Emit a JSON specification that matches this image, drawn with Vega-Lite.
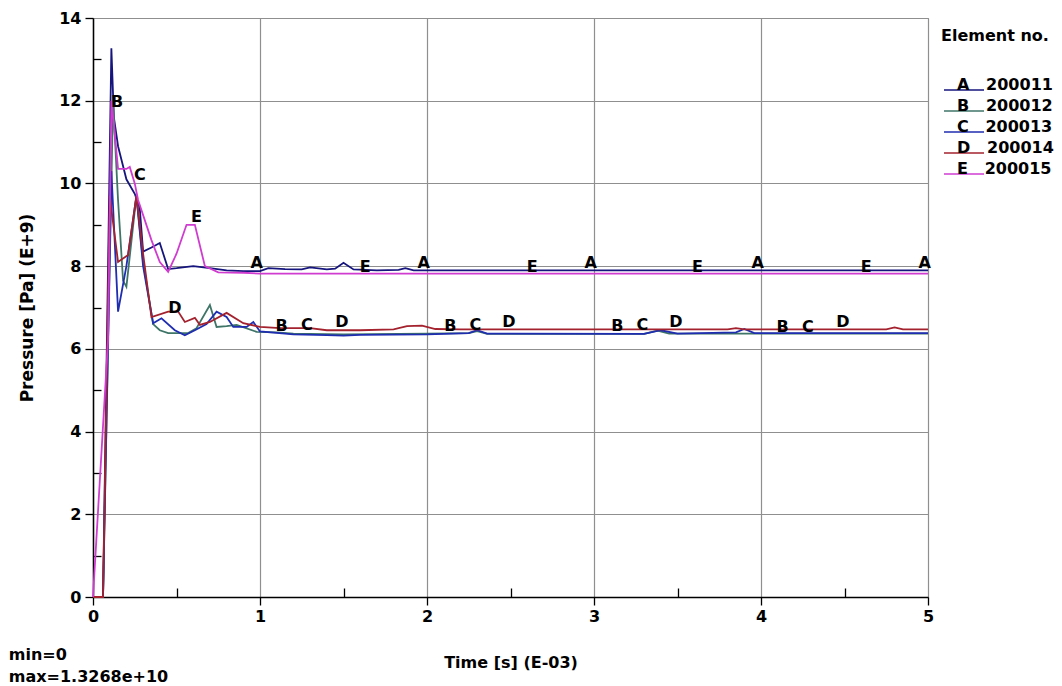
{
  "$schema": "https://vega.github.io/schema/vega-lite/v6.json",
  "width": 835,
  "height": 579,
  "autosize": {"type": "none"},
  "padding": {"left": 93, "top": 18, "right": 134, "bottom": 89},
  "background": "white",
  "config": {
    "font": "DejaVu Sans",
    "view": {"stroke": "#8a8a8a", "strokeWidth": 1}
  },
  "title": {
    "text": ["min=0", "max=1.3268e+10"],
    "orient": "bottom",
    "anchor": "start",
    "frame": "bounds",
    "font": "DejaVu Sans",
    "fontSize": 16,
    "fontWeight": "bold",
    "color": "black",
    "offset": -23,
    "dx": -10,
    "lineHeight": 22,
    "align": "left"
  },
  "datasets": {
    "curves": [
      {"t":0,"p":0,"el":"200011"},{"t":0.06,"p":0,"el":"200011"},{"t":0.11,"p":13.27,"el":"200011"},{"t":0.125,"p":11.6,"el":"200011"},{"t":0.15,"p":10.9,"el":"200011"},{"t":0.2,"p":10.1,"el":"200011"},{"t":0.25,"p":9.75,"el":"200011"},{"t":0.28,"p":9.4,"el":"200011"},{"t":0.3,"p":8.35,"el":"200011"},{"t":0.35,"p":8.45,"el":"200011"},{"t":0.4,"p":8.56,"el":"200011"},{"t":0.45,"p":7.93,"el":"200011"},{"t":0.5,"p":7.95,"el":"200011"},{"t":0.6,"p":8.0,"el":"200011"},{"t":0.7,"p":7.95,"el":"200011"},{"t":0.8,"p":7.9,"el":"200011"},{"t":0.9,"p":7.88,"el":"200011"},{"t":1.0,"p":7.88,"el":"200011"},{"t":1.05,"p":7.95,"el":"200011"},{"t":1.15,"p":7.93,"el":"200011"},{"t":1.25,"p":7.92,"el":"200011"},{"t":1.3,"p":7.97,"el":"200011"},{"t":1.4,"p":7.92,"el":"200011"},{"t":1.45,"p":7.94,"el":"200011"},{"t":1.5,"p":8.08,"el":"200011"},{"t":1.56,"p":7.92,"el":"200011"},{"t":1.7,"p":7.9,"el":"200011"},{"t":1.83,"p":7.91,"el":"200011"},{"t":1.87,"p":7.95,"el":"200011"},{"t":1.92,"p":7.9,"el":"200011"},{"t":2.5,"p":7.9,"el":"200011"},{"t":3.0,"p":7.9,"el":"200011"},{"t":3.5,"p":7.9,"el":"200011"},{"t":4.0,"p":7.9,"el":"200011"},{"t":4.5,"p":7.9,"el":"200011"},{"t":5.0,"p":7.9,"el":"200011"},

      {"t":0,"p":0,"el":"200012"},{"t":0.06,"p":0,"el":"200012"},{"t":0.12,"p":12.0,"el":"200012"},{"t":0.15,"p":9.6,"el":"200012"},{"t":0.18,"p":7.65,"el":"200012"},{"t":0.2,"p":7.5,"el":"200012"},{"t":0.26,"p":9.7,"el":"200012"},{"t":0.3,"p":8.1,"el":"200012"},{"t":0.36,"p":6.6,"el":"200012"},{"t":0.4,"p":6.45,"el":"200012"},{"t":0.45,"p":6.38,"el":"200012"},{"t":0.57,"p":6.38,"el":"200012"},{"t":0.62,"p":6.5,"el":"200012"},{"t":0.7,"p":7.06,"el":"200012"},{"t":0.74,"p":6.53,"el":"200012"},{"t":0.8,"p":6.55,"el":"200012"},{"t":0.86,"p":6.58,"el":"200012"},{"t":0.98,"p":6.41,"el":"200012"},{"t":1.1,"p":6.4,"el":"200012"},{"t":1.2,"p":6.37,"el":"200012"},{"t":1.5,"p":6.35,"el":"200012"},{"t":2.0,"p":6.37,"el":"200012"},{"t":2.25,"p":6.38,"el":"200012"},{"t":2.3,"p":6.43,"el":"200012"},{"t":2.36,"p":6.36,"el":"200012"},{"t":3.0,"p":6.36,"el":"200012"},{"t":3.3,"p":6.36,"el":"200012"},{"t":3.38,"p":6.44,"el":"200012"},{"t":3.45,"p":6.37,"el":"200012"},{"t":4.0,"p":6.37,"el":"200012"},{"t":4.5,"p":6.37,"el":"200012"},{"t":5.0,"p":6.37,"el":"200012"},

      {"t":0,"p":0,"el":"200013"},{"t":0.06,"p":0,"el":"200013"},{"t":0.11,"p":10.3,"el":"200013"},{"t":0.15,"p":6.9,"el":"200013"},{"t":0.2,"p":8.0,"el":"200013"},{"t":0.26,"p":9.7,"el":"200013"},{"t":0.3,"p":8.0,"el":"200013"},{"t":0.36,"p":6.62,"el":"200013"},{"t":0.41,"p":6.74,"el":"200013"},{"t":0.49,"p":6.45,"el":"200013"},{"t":0.55,"p":6.33,"el":"200013"},{"t":0.61,"p":6.45,"el":"200013"},{"t":0.68,"p":6.6,"el":"200013"},{"t":0.74,"p":6.9,"el":"200013"},{"t":0.8,"p":6.77,"el":"200013"},{"t":0.84,"p":6.53,"el":"200013"},{"t":0.92,"p":6.53,"el":"200013"},{"t":0.96,"p":6.65,"el":"200013"},{"t":1.0,"p":6.42,"el":"200013"},{"t":1.2,"p":6.35,"el":"200013"},{"t":1.4,"p":6.33,"el":"200013"},{"t":1.5,"p":6.32,"el":"200013"},{"t":1.6,"p":6.34,"el":"200013"},{"t":2.0,"p":6.35,"el":"200013"},{"t":2.25,"p":6.38,"el":"200013"},{"t":2.3,"p":6.45,"el":"200013"},{"t":2.36,"p":6.37,"el":"200013"},{"t":3.3,"p":6.36,"el":"200013"},{"t":3.4,"p":6.45,"el":"200013"},{"t":3.5,"p":6.37,"el":"200013"},{"t":3.85,"p":6.4,"el":"200013"},{"t":3.9,"p":6.48,"el":"200013"},{"t":3.96,"p":6.38,"el":"200013"},{"t":5.0,"p":6.38,"el":"200013"},

      {"t":0,"p":0,"el":"200014"},{"t":0.06,"p":0,"el":"200014"},{"t":0.1,"p":9.7,"el":"200014"},{"t":0.15,"p":8.1,"el":"200014"},{"t":0.21,"p":8.27,"el":"200014"},{"t":0.26,"p":9.7,"el":"200014"},{"t":0.3,"p":8.3,"el":"200014"},{"t":0.35,"p":6.77,"el":"200014"},{"t":0.45,"p":6.9,"el":"200014"},{"t":0.51,"p":6.9,"el":"200014"},{"t":0.55,"p":6.65,"el":"200014"},{"t":0.61,"p":6.75,"el":"200014"},{"t":0.64,"p":6.58,"el":"200014"},{"t":0.7,"p":6.65,"el":"200014"},{"t":0.8,"p":6.87,"el":"200014"},{"t":0.9,"p":6.62,"el":"200014"},{"t":1.0,"p":6.53,"el":"200014"},{"t":1.12,"p":6.5,"el":"200014"},{"t":1.3,"p":6.5,"el":"200014"},{"t":1.4,"p":6.45,"el":"200014"},{"t":1.6,"p":6.45,"el":"200014"},{"t":1.8,"p":6.47,"el":"200014"},{"t":1.88,"p":6.55,"el":"200014"},{"t":1.97,"p":6.56,"el":"200014"},{"t":2.05,"p":6.48,"el":"200014"},{"t":2.2,"p":6.47,"el":"200014"},{"t":3.0,"p":6.47,"el":"200014"},{"t":3.8,"p":6.47,"el":"200014"},{"t":3.85,"p":6.5,"el":"200014"},{"t":3.9,"p":6.47,"el":"200014"},{"t":4.75,"p":6.47,"el":"200014"},{"t":4.8,"p":6.52,"el":"200014"},{"t":4.85,"p":6.47,"el":"200014"},{"t":5.0,"p":6.47,"el":"200014"},

      {"t":0,"p":0,"el":"200015"},{"t":0.09,"p":6.2,"el":"200015"},{"t":0.11,"p":12.0,"el":"200015"},{"t":0.13,"p":11.2,"el":"200015"},{"t":0.15,"p":10.35,"el":"200015"},{"t":0.2,"p":10.35,"el":"200015"},{"t":0.22,"p":10.4,"el":"200015"},{"t":0.25,"p":10.0,"el":"200015"},{"t":0.27,"p":9.6,"el":"200015"},{"t":0.35,"p":8.63,"el":"200015"},{"t":0.4,"p":8.1,"el":"200015"},{"t":0.45,"p":7.86,"el":"200015"},{"t":0.5,"p":8.3,"el":"200015"},{"t":0.56,"p":9.0,"el":"200015"},{"t":0.61,"p":9.0,"el":"200015"},{"t":0.67,"p":8.0,"el":"200015"},{"t":0.75,"p":7.85,"el":"200015"},{"t":0.9,"p":7.84,"el":"200015"},{"t":1.0,"p":7.82,"el":"200015"},{"t":1.5,"p":7.82,"el":"200015"},{"t":2.0,"p":7.82,"el":"200015"},{"t":3.0,"p":7.82,"el":"200015"},{"t":4.0,"p":7.82,"el":"200015"},{"t":5.0,"p":7.82,"el":"200015"}
    ],
    "tags": [
      {"t":0.144,"p":11.97,"tag":"B"},
      {"t":0.28,"p":10.2,"tag":"C"},
      {"t":0.49,"p":6.99,"tag":"D"},
      {"t":0.62,"p":9.19,"tag":"E"},
      {"t":0.98,"p":8.08,"tag":"A"},{"t":1.98,"p":8.08,"tag":"A"},{"t":2.98,"p":8.08,"tag":"A"},{"t":3.98,"p":8.08,"tag":"A"},{"t":4.98,"p":8.08,"tag":"A"},
      {"t":1.63,"p":7.98,"tag":"E"},{"t":2.63,"p":7.98,"tag":"E"},{"t":3.62,"p":7.98,"tag":"E"},{"t":4.63,"p":7.98,"tag":"E"},
      {"t":1.13,"p":6.55,"tag":"B"},{"t":2.14,"p":6.55,"tag":"B"},{"t":3.14,"p":6.55,"tag":"B"},{"t":4.13,"p":6.53,"tag":"B"},
      {"t":1.28,"p":6.58,"tag":"C"},{"t":2.29,"p":6.58,"tag":"C"},{"t":3.29,"p":6.58,"tag":"C"},{"t":4.28,"p":6.53,"tag":"C"},
      {"t":1.49,"p":6.65,"tag":"D"},{"t":2.49,"p":6.65,"tag":"D"},{"t":3.49,"p":6.65,"tag":"D"},{"t":4.49,"p":6.65,"tag":"D"}
    ]
  },
  "layer": [
    {
      "data": {"name": "curves"},
      "mark": {"type": "line", "strokeWidth": 1.8},
      "encoding": {
        "x": {
          "field": "t", "type": "quantitative",
          "scale": {"domain": [0, 5], "nice": false, "zero": false},
          "axis": {
            "title": "Time [s] (E-03)",
            "values": [0, 0.5, 1, 1.5, 2, 2.5, 3, 3.5, 4, 4.5, 5],
            "labelExpr": "datum.value % 1 === 0 ? '' + datum.value : ''",
            "labelFlush": false,
            "labelFont": "DejaVu Sans", "labelFontSize": 16, "labelFontWeight": "bold", "labelColor": "black",
            "labelPadding": 3,
            "titleFont": "DejaVu Sans", "titleFontSize": 16, "titleFontWeight": "bold", "titleColor": "black",
            "titlePadding": 30,
            "domainColor": "black", "domainWidth": 1.5,
            "tickColor": "black", "tickWidth": 1.3,
            "tickSize": {"condition": {"test": "datum.value % 1 !== 0", "value": -9}, "value": 8},
            "grid": true, "gridColor": "#8f8f8f", "gridWidth": 1.2,
            "gridOpacity": {"condition": {"test": "datum.value % 1 !== 0", "value": 0}, "value": 1}
          }
        },
        "y": {
          "field": "p", "type": "quantitative",
          "scale": {"domain": [0, 14], "nice": false},
          "axis": {
            "title": "Pressure [Pa] (E+9)",
            "values": [0, 1, 2, 3, 4, 5, 6, 7, 8, 9, 10, 11, 12, 13, 14],
            "labelExpr": "datum.value % 2 === 0 ? '' + datum.value : ''",
            "labelFlush": false,
            "labelFont": "DejaVu Sans", "labelFontSize": 16, "labelFontWeight": "bold", "labelColor": "black",
            "labelPadding": 4,
            "titleFont": "DejaVu Sans", "titleFontSize": 17, "titleFontWeight": "bold", "titleColor": "black",
            "titlePadding": 22,
            "domainColor": "black", "domainWidth": 1.5,
            "tickColor": "black", "tickWidth": 1.3,
            "tickSize": {"condition": {"test": "datum.value % 2 !== 0", "value": -8}, "value": 8},
            "grid": true, "gridColor": "#8f8f8f", "gridWidth": 1.2,
            "gridOpacity": {"condition": {"test": "datum.value % 2 !== 0", "value": 0}, "value": 1}
          }
        },
        "color": {
          "field": "el", "type": "nominal",
          "scale": {
            "domain": ["200011", "200012", "200013", "200014", "200015"],
            "range": ["#15157d", "#3f7567", "#1f2db0", "#a3222e", "#d03cd0"]
          },
          "legend": {
            "title": "Element no.",
            "orient": "right",
            "offset": -1,
            "padding": 10,
            "titleFont": "DejaVu Sans", "titleFontSize": 16, "titleFontWeight": "bold", "titleColor": "black",
            "titlePadding": 38,
            "labelFont": "DejaVu Sans", "labelFontSize": 16, "labelFontWeight": "bold", "labelColor": "black",
            "labelBaseline": "alphabetic",
            "labelOffset": 0,
            "labelExpr": "['A','B','C','D','E'][toNumber(datum.label) - 200011] + '\u00a0\u00a0\u00a0' + datum.label",
            "symbolType": "M-1,0L7,0",
            "symbolSize": 100,
            "symbolStrokeWidth": 1.5,
            "rowPadding": 5
          }
        }
      }
    },
    {
      "data": {"name": "tags"},
      "mark": {"type": "text", "font": "DejaVu Sans", "fontSize": 16, "fontWeight": "bold", "color": "black"},
      "encoding": {
        "x": {"field": "t", "type": "quantitative"},
        "y": {"field": "p", "type": "quantitative"},
        "text": {"field": "tag"}
      }
    }
  ]
}
